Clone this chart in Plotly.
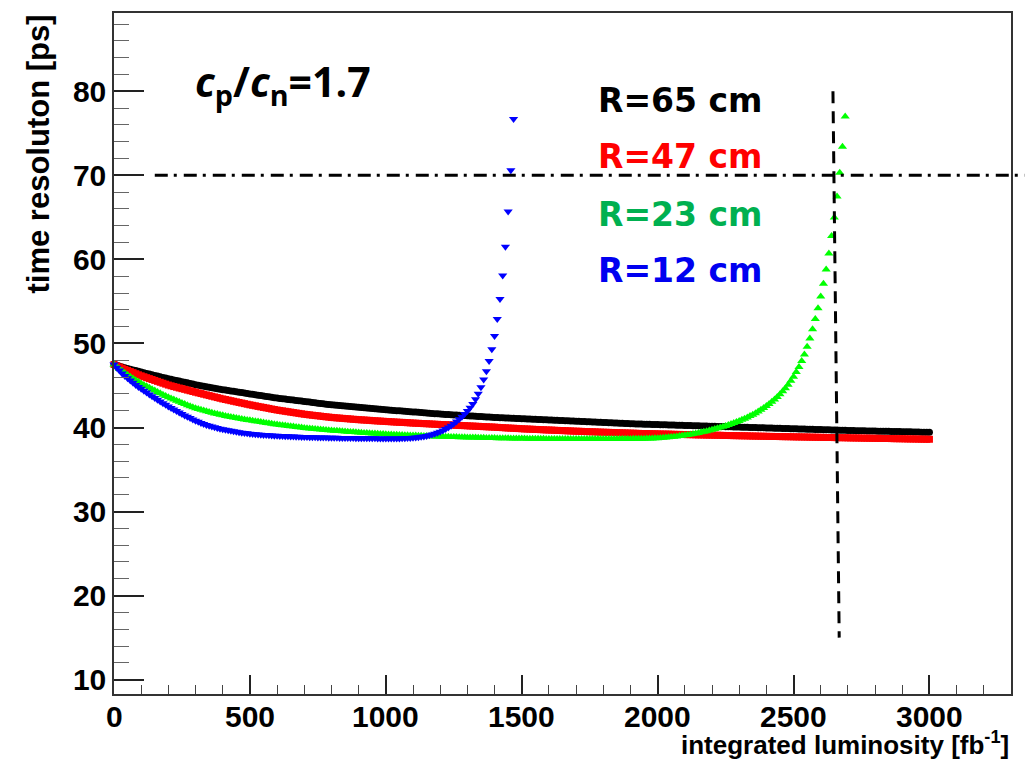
import plotly.graph_objects as go

# Time resolution [ps] vs integrated luminosity [fb^-1], sampled every 10 fb^-1
LUMI_STEP = 10

res_r65 = [
    47.50, 47.40, 47.30, 47.21, 47.12, 47.03, 46.94, 46.85, 46.77, 46.68,
    46.60, 46.52, 46.44, 46.36, 46.28, 46.20, 46.12, 46.04, 45.96, 45.88,
    45.80, 45.73, 45.66, 45.59, 45.52, 45.45, 45.38, 45.31, 45.24, 45.17,
    45.10, 45.04, 44.98, 44.92, 44.86, 44.80, 44.74, 44.68, 44.62, 44.56,
    44.50, 44.45, 44.40, 44.35, 44.30, 44.25, 44.20, 44.15, 44.10, 44.05,
    44.00, 43.95, 43.90, 43.85, 43.80, 43.75, 43.70, 43.65, 43.60, 43.55,
    43.50, 43.46, 43.42, 43.38, 43.34, 43.30, 43.26, 43.22, 43.18, 43.14,
    43.10, 43.06, 43.02, 42.98, 42.94, 42.90, 42.86, 42.82, 42.78, 42.74,
    42.70, 42.67, 42.64, 42.61, 42.58, 42.55, 42.52, 42.49, 42.46, 42.43,
    42.40, 42.37, 42.34, 42.31, 42.28, 42.25, 42.22, 42.19, 42.16, 42.13,
    42.10, 42.08, 42.05, 42.03, 42.00, 41.98, 41.95, 41.93, 41.90, 41.88,
    41.85, 41.83, 41.80, 41.78, 41.75, 41.73, 41.70, 41.68, 41.65, 41.63,
    41.60, 41.58, 41.56, 41.54, 41.52, 41.50, 41.48, 41.46, 41.44, 41.42,
    41.40, 41.38, 41.36, 41.34, 41.32, 41.30, 41.28, 41.26, 41.24, 41.22,
    41.20, 41.19, 41.17, 41.16, 41.14, 41.13, 41.11, 41.10, 41.08, 41.07,
    41.05, 41.04, 41.02, 41.01, 40.99, 40.98, 40.96, 40.95, 40.93, 40.92,
    40.90, 40.89, 40.87, 40.86, 40.84, 40.83, 40.81, 40.80, 40.78, 40.77,
    40.75, 40.74, 40.72, 40.71, 40.69, 40.68, 40.66, 40.65, 40.63, 40.62,
    40.60, 40.59, 40.57, 40.56, 40.54, 40.53, 40.51, 40.50, 40.48, 40.47,
    40.45, 40.44, 40.43, 40.42, 40.41, 40.40, 40.39, 40.38, 40.37, 40.36,
    40.35, 40.34, 40.33, 40.32, 40.31, 40.30, 40.29, 40.28, 40.27, 40.26,
    40.25, 40.24, 40.23, 40.22, 40.21, 40.20, 40.19, 40.18, 40.17, 40.16,
    40.15, 40.14, 40.13, 40.12, 40.11, 40.10, 40.09, 40.08, 40.07, 40.06,
    40.05, 40.04, 40.03, 40.02, 40.01, 40.00, 39.99, 39.98, 39.97, 39.96,
    39.95, 39.94, 39.93, 39.92, 39.91, 39.90, 39.89, 39.88, 39.87, 39.86,
    39.85, 39.84, 39.83, 39.82, 39.81, 39.80, 39.79, 39.78, 39.77, 39.76,
    39.75, 39.74, 39.73, 39.72, 39.71, 39.70, 39.69, 39.68, 39.67, 39.66,
    39.65, 39.64, 39.63, 39.62, 39.62, 39.61, 39.60, 39.59, 39.58, 39.58,
    39.57, 39.56, 39.56, 39.55, 39.54, 39.54, 39.53, 39.52, 39.52, 39.51,
    39.50, 39.49, 39.48, 39.48, 39.47, 39.46, 39.45, 39.44, 39.44, 39.43,
    39.42,
]

res_r47 = [
    47.50, 47.35, 47.20, 47.06, 46.92, 46.79, 46.66, 46.53, 46.40, 46.27,
    46.15, 46.04, 45.93, 45.82, 45.71, 45.60, 45.49, 45.38, 45.27, 45.16,
    45.05, 44.96, 44.87, 44.79, 44.70, 44.62, 44.54, 44.45, 44.37, 44.28,
    44.20, 44.12, 44.04, 43.96, 43.88, 43.80, 43.72, 43.64, 43.56, 43.48,
    43.40, 43.33, 43.26, 43.19, 43.12, 43.05, 42.98, 42.91, 42.84, 42.77,
    42.70, 42.64, 42.58, 42.51, 42.45, 42.39, 42.33, 42.27, 42.20, 42.14,
    42.08, 42.03, 41.98, 41.93, 41.88, 41.83, 41.78, 41.73, 41.68, 41.63,
    41.58, 41.54, 41.50, 41.46, 41.42, 41.39, 41.35, 41.31, 41.27, 41.24,
    41.20, 41.17, 41.14, 41.12, 41.09, 41.06, 41.04, 41.01, 40.98, 40.96,
    40.93, 40.91, 40.89, 40.87, 40.85, 40.82, 40.80, 40.78, 40.76, 40.74,
    40.72, 40.70, 40.68, 40.66, 40.64, 40.62, 40.61, 40.59, 40.57, 40.55,
    40.53, 40.51, 40.50, 40.48, 40.46, 40.45, 40.43, 40.41, 40.39, 40.38,
    40.36, 40.34, 40.33, 40.31, 40.30, 40.28, 40.26, 40.25, 40.23, 40.22,
    40.20, 40.18, 40.17, 40.15, 40.14, 40.12, 40.10, 40.09, 40.07, 40.06,
    40.04, 40.02, 40.00, 39.98, 39.96, 39.94, 39.92, 39.91, 39.89, 39.87,
    39.85, 39.83, 39.82, 39.80, 39.79, 39.77, 39.76, 39.74, 39.73, 39.71,
    39.70, 39.69, 39.67, 39.66, 39.64, 39.63, 39.62, 39.60, 39.59, 39.57,
    39.56, 39.55, 39.54, 39.52, 39.51, 39.50, 39.49, 39.48, 39.46, 39.45,
    39.44, 39.43, 39.42, 39.41, 39.40, 39.38, 39.37, 39.36, 39.35, 39.34,
    39.33, 39.32, 39.31, 39.30, 39.29, 39.29, 39.28, 39.27, 39.26, 39.25,
    39.24, 39.23, 39.22, 39.22, 39.21, 39.20, 39.19, 39.18, 39.18, 39.17,
    39.16, 39.15, 39.15, 39.14, 39.13, 39.12, 39.12, 39.11, 39.10, 39.10,
    39.09, 39.08, 39.08, 39.07, 39.06, 39.05, 39.05, 39.04, 39.03, 39.03,
    39.02, 39.01, 39.01, 39.00, 38.99, 38.98, 38.98, 38.97, 38.96, 38.96,
    38.95, 38.94, 38.94, 38.93, 38.93, 38.92, 38.91, 38.91, 38.90, 38.90,
    38.89, 38.88, 38.88, 38.87, 38.87, 38.86, 38.85, 38.85, 38.84, 38.84,
    38.83, 38.82, 38.82, 38.81, 38.81, 38.80, 38.79, 38.79, 38.78, 38.78,
    38.77, 38.76, 38.76, 38.75, 38.75, 38.74, 38.73, 38.73, 38.72, 38.72,
    38.71, 38.71, 38.70, 38.70, 38.69, 38.69, 38.68, 38.67, 38.67, 38.66,
    38.66, 38.65, 38.64, 38.64, 38.63, 38.63, 38.62, 38.61, 38.61, 38.60,
    38.60,
]

res_r23 = [
    47.50, 47.23, 46.97, 46.72, 46.48, 46.25, 46.03, 45.82, 45.62, 45.43,
    45.25, 45.07, 44.90, 44.73, 44.56, 44.39, 44.23, 44.07, 43.91, 43.75,
    43.60, 43.46, 43.32, 43.18, 43.05, 42.92, 42.79, 42.66, 42.54, 42.42,
    42.30, 42.20, 42.10, 42.01, 41.92, 41.84, 41.76, 41.68, 41.60, 41.52,
    41.45, 41.38, 41.31, 41.25, 41.19, 41.13, 41.07, 41.01, 40.96, 40.90,
    40.85, 40.80, 40.75, 40.70, 40.65, 40.60, 40.55, 40.50, 40.45, 40.40,
    40.35, 40.31, 40.27, 40.23, 40.19, 40.15, 40.11, 40.07, 40.03, 39.99,
    39.95, 39.92, 39.89, 39.86, 39.83, 39.80, 39.77, 39.74, 39.71, 39.68,
    39.65, 39.62, 39.60, 39.57, 39.55, 39.52, 39.50, 39.47, 39.45, 39.42,
    39.40, 39.38, 39.36, 39.34, 39.32, 39.30, 39.28, 39.26, 39.24, 39.22,
    39.20, 39.18, 39.17, 39.15, 39.14, 39.12, 39.11, 39.09, 39.08, 39.06,
    39.05, 39.04, 39.02, 39.01, 39.00, 38.98, 38.97, 38.96, 38.94, 38.93,
    38.92, 38.91, 38.90, 38.89, 38.88, 38.87, 38.86, 38.85, 38.84, 38.83,
    38.82, 38.81, 38.80, 38.80, 38.79, 38.78, 38.77, 38.76, 38.76, 38.75,
    38.74, 38.73, 38.73, 38.72, 38.72, 38.71, 38.70, 38.70, 38.69, 38.69,
    38.68, 38.68, 38.67, 38.67, 38.66, 38.66, 38.66, 38.65, 38.65, 38.64,
    38.64, 38.64, 38.64, 38.63, 38.63, 38.63, 38.63, 38.62, 38.62, 38.62,
    38.62, 38.62, 38.62, 38.62, 38.62, 38.62, 38.62, 38.62, 38.62, 38.62,
    38.62, 38.62, 38.62, 38.62, 38.63, 38.63, 38.63, 38.63, 38.64, 38.64,
    38.64, 38.65, 38.65, 38.66, 38.66, 38.67, 38.68, 38.69, 38.70, 38.71,
    38.72, 38.74, 38.77, 38.80, 38.83, 38.86, 38.90, 38.94, 38.98, 39.02,
    39.07, 39.12, 39.17, 39.23, 39.29, 39.35, 39.42, 39.49, 39.56, 39.64,
    39.72, 39.81, 39.90, 39.99, 40.09, 40.19, 40.30, 40.41, 40.53, 40.65,
    40.78, 40.91, 41.05, 41.20, 41.36, 41.53, 41.71, 41.90, 42.10, 42.32,
    42.55, 42.79, 43.05, 43.33, 43.63, 43.95, 44.30, 44.68, 45.10, 45.55,
    46.05, 46.60, 47.20, 47.90, 48.70, 49.60, 50.60, 51.70, 52.90, 54.20,
    55.60, 57.10, 58.80, 60.70, 62.80, 65.00, 67.50, 70.30, 73.40, 77.00,
]

res_r12 = [
    47.50, 47.12, 46.77, 46.44, 46.14, 45.85, 45.58, 45.32, 45.07, 44.83,
    44.60, 44.38, 44.16, 43.94, 43.72, 43.50, 43.30, 43.10, 42.90, 42.70,
    42.50, 42.32, 42.14, 41.96, 41.78, 41.60, 41.44, 41.28, 41.12, 40.96,
    40.80, 40.67, 40.55, 40.43, 40.31, 40.20, 40.11, 40.02, 39.94, 39.86,
    39.78, 39.72, 39.66, 39.60, 39.54, 39.48, 39.44, 39.39, 39.35, 39.31,
    39.27, 39.24, 39.21, 39.18, 39.15, 39.12, 39.10, 39.07, 39.05, 39.03,
    39.01, 38.99, 38.98, 38.96, 38.95, 38.93, 38.92, 38.91, 38.90, 38.88,
    38.87, 38.86, 38.85, 38.84, 38.83, 38.82, 38.81, 38.80, 38.80, 38.79,
    38.78, 38.77, 38.77, 38.76, 38.76, 38.75, 38.75, 38.74, 38.74, 38.73,
    38.73, 38.72, 38.72, 38.72, 38.71, 38.71, 38.71, 38.70, 38.70, 38.70,
    38.70, 38.70, 38.70, 38.70, 38.70, 38.70, 38.71, 38.72, 38.74, 38.76,
    38.78, 38.81, 38.85, 38.89, 38.94, 39.00, 39.07, 39.16, 39.26, 39.37,
    39.50, 39.65, 39.82, 40.01, 40.22, 40.45, 40.70, 40.98, 41.28, 41.60,
    41.95, 42.35, 42.80, 43.35, 44.03, 44.80, 45.70, 46.70, 47.90, 49.30,
    50.90, 52.90, 55.30, 58.10, 61.50, 65.70, 70.60, 76.70,
]

series = [
    # (values, marker symbol, colour, marker size)
    (res_r65, "circle", "#000000", 7),
    (res_r47, "square", "#ff0000", 7),
    (res_r23, "triangle-up", "#00ff00", 8),
    (res_r12, "triangle-down", "#0000ff", 8),
]

labels = ["R=65 cm", "R=47 cm", "R=23 cm", "R=12 cm"]
label_colors = ["#000000", "#ff0000", "#00b050", "#0000f0"]
label_ypix = [100.5, 156.2, 215.0, 270.8]

x_ticks = [0, 500, 1000, 1500, 2000, 2500, 3000]
y_ticks = [10, 20, 30, 40, 50, 60, 70, 80]

limit_resolution = 70      # horizontal reference level [ps]
limit_lumi_x = [2645, 2668]  # vertical reference line ends [fb^-1]
limit_lumi_y = [80, 15]

X_RANGE = [0, 3300]
Y_RANGE = [8.29, 89.32]

fig = go.Figure()
for vals, sym, col, size in series:
    xs = [i * LUMI_STEP for i in range(len(vals))]
    fig.add_trace(go.Scatter(
        x=xs, y=vals, mode="markers", cliponaxis=False, showlegend=False,
        marker=dict(symbol=sym, color=col, size=size, line=dict(width=0)),
    ))

# plot frame geometry in pixels
W, H = 1025, 770
ML, MR, MT, MB = 114, 14, 13, 76
pw, ph = W - ML - MR, H - MT - MB


def px_to_paper_x(px):
    return (px - ML) / pw


def px_to_paper_y(py):
    return (H - MB - py) / ph


HELV = "Liberation Sans, Arial, sans-serif"
tick_font = dict(family=HELV, size=30, color="black", weight="bold")

fig.update_layout(
    width=W, height=H,
    margin=dict(l=ML, r=MR, t=MT, b=MB, pad=0),
    paper_bgcolor="white", plot_bgcolor="white",
    xaxis=dict(
        range=X_RANGE, tickmode="array", tickvals=x_ticks,
        showticklabels=False,
        ticks="inside", ticklen=19, tickwidth=1.5, tickcolor="#222",
        minor=dict(dtick=100, tick0=0, ticks="inside", ticklen=9,
                   tickwidth=1.2, tickcolor="#444"),
        showgrid=False, zeroline=False, showline=True, mirror=True,
        linecolor="#333", linewidth=1.5,
    ),
    yaxis=dict(
        range=Y_RANGE, tickmode="array", tickvals=y_ticks,
        ticks="inside", ticklen=30, tickwidth=1.5, tickcolor="#222",
        minor=dict(dtick=2, tick0=0, ticks="inside", ticklen=15,
                   tickwidth=1.2, tickcolor="#666"),
        showgrid=False, zeroline=False, showline=True, mirror=True,
        linecolor="#333", linewidth=1.5, tickfont=tick_font,
        ticklabelstandoff=0,
    ),
    shapes=[
        dict(type="line", xref="paper", yref="y",
             x0=150 / X_RANGE[1], x1=px_to_paper_x(1030),
             y0=limit_resolution, y1=limit_resolution,
             line=dict(color="black", width=3, dash="13px,6px,3px,7px")),
        dict(type="line", xref="x", yref="y",
             x0=limit_lumi_x[0], x1=limit_lumi_x[1],
             y0=limit_lumi_y[0], y1=limit_lumi_y[1],
             line=dict(color="black", width=3, dash="12px,8px")),
    ],
)

annotations = []
# x tick labels
for xv in x_ticks:
    annotations.append(dict(
        text=str(xv), xref="x", yref="paper", x=xv, y=px_to_paper_y(716),
        xanchor="center", yanchor="middle", showarrow=False, font=tick_font,
    ))

annotations += [
    dict(text="integrated luminosity [fb<sup>-1</sup>]",
         xref="paper", yref="paper", x=1.0, y=px_to_paper_y(744),
         xanchor="right", yanchor="middle", showarrow=False,
         font=dict(family=HELV, size=26, color="black", weight="bold")),
    dict(text="time resoluton [ps]", textangle=-90,
         xref="paper", yref="paper", x=px_to_paper_x(38), y=1.0,
         xanchor="center", yanchor="top", showarrow=False,
         font=dict(family=HELV, size=31, color="black", weight="bold")),
    dict(text="<i>c</i><sub>p</sub>/<i>c</i><sub>n</sub>=1.7",
         xref="paper", yref="paper", x=px_to_paper_x(193), y=px_to_paper_y(83),
         xanchor="left", yanchor="middle", showarrow=False,
         font=dict(family="Open Sans, sans-serif", size=41,
                   color="black", weight="bold")),
]
for txt, col, ypix in zip(labels, label_colors, label_ypix):
    annotations.append(dict(
        text=txt, xref="paper", yref="paper",
        x=px_to_paper_x(596), y=px_to_paper_y(ypix),
        xanchor="left", yanchor="middle", showarrow=False,
        font=dict(family="DejaVu Sans, sans-serif", size=33,
                  color=col, weight="bold"),
    ))
fig.update_layout(annotations=annotations)

fig.write_html("out.html")
